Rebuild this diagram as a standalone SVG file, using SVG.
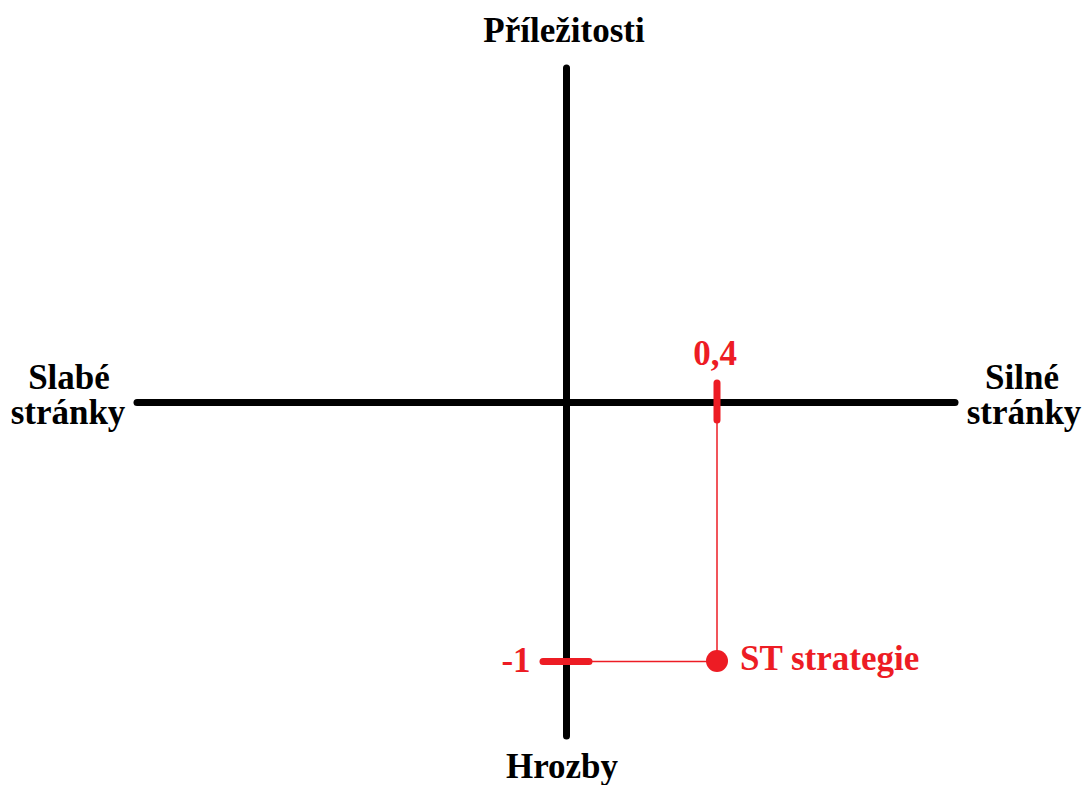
<svg xmlns="http://www.w3.org/2000/svg" width="1083" height="785" viewBox="0 0 1083 785">
<style>
.t{font-family:"Liberation Serif","Times New Roman",serif;font-weight:bold;font-size:35px;text-anchor:middle}
.k{fill:#000}
.r{fill:#ED1C24}
.ax{stroke:#000;stroke-width:7;stroke-linecap:round;fill:none}
.tick{stroke:#ED1C24;stroke-width:7;stroke-linecap:round;fill:none}
.thin{stroke:#ED1C24;stroke-width:1.5;fill:none}
</style>
<rect width="1083" height="785" fill="#fff"/>
<g id="axes">
<line class="ax" x1="566.5" y1="68" x2="566.5" y2="736"/>
<line class="ax" x1="137" y1="402.5" x2="955" y2="402.5"/>
</g>
<g id="connectors">
<line class="thin" x1="717" y1="420" x2="717" y2="661"/>
<line class="thin" x1="590" y1="661.5" x2="717" y2="661.5"/>
<line class="tick" x1="717" y1="383" x2="717" y2="420"/>
<line class="tick" x1="543" y1="661.5" x2="589" y2="661.5"/>
</g>
<g id="label-top"><text class="t k" x="564" y="42">Příležitosti</text></g>
<g id="label-bottom"><text class="t k" x="562" y="778">Hrozby</text></g>
<g id="label-left"><text class="t k" x="69" y="389">Slabé</text><text class="t k" x="68" y="424">stránky</text></g>
<g id="label-right"><text class="t k" x="1022" y="389">Silné</text><text class="t k" x="1024" y="424">stránky</text></g>
<g id="value-x"><text class="t r" x="715" y="365">0,4</text></g>
<g id="value-y"><text class="t r" x="516" y="672">-1</text></g>
<g id="point-st">
<circle class="r" cx="717" cy="661" r="11"/>
<text class="t r" x="740" y="670" style="text-anchor:start">ST strategie</text>
</g>
</svg>
